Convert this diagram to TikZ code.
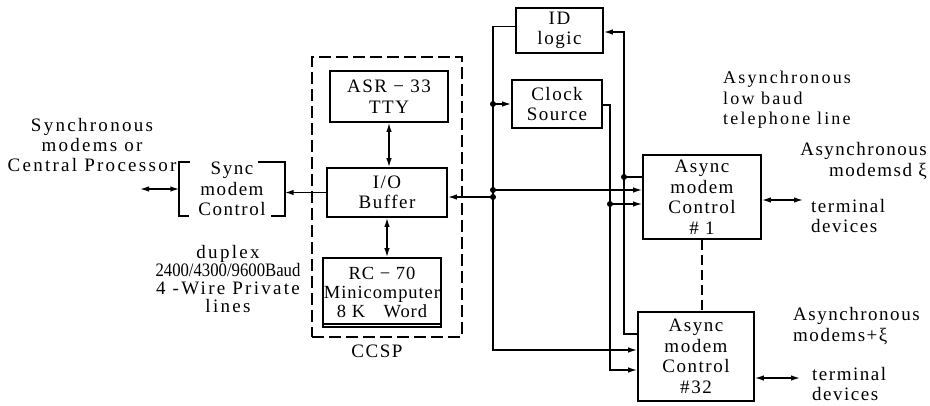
\documentclass[tikz,border=0pt]{standalone}
\usepackage{fontspec}
\setmainfont{Liberation Serif}[LetterSpace=8]
\newfontfamily\widefont{Liberation Serif}[LetterSpace=12]
\newfontfamily\condfont{Liberation Serif}[LetterSpace=0,FakeStretch=0.88]
\newfontfamily\narrowfont{Liberation Serif}[LetterSpace=5]
\usetikzlibrary{arrows.meta,calc}
\newcommand\dfont{\fontsize{19}{20.5}\selectfont}
\begin{document}
\begin{tikzpicture}[x=1pt,y=-1pt,
  box/.style={draw,line width=1.8pt,align=center,inner sep=0pt,font=\dfont},
  lbl/.style={inner sep=0pt,font=\dfont},
  wire/.style={line width=1.4pt},
  tip/.tip={Latex[length=9pt,width=5.5pt]},
  dot/.style={circle,fill,inner sep=0pt,minimum size=6pt}]
\useasboundingbox (0,0) rectangle (930,405);
% CCSP group
\node[draw,line width=1.4pt,dash pattern=on 12pt off 5pt,minimum width=150pt,minimum height=280pt,inner sep=0pt] (ccsp) at (387,197) {};
\node[lbl] (ccsplbl) at (377,351) {CCSP};
\node[box,minimum width=118pt,minimum height=51pt] (asr) at (389,96.5) {ASR − 33\\TTY};
\node[box,minimum width=120pt,minimum height=49pt] (io) at (387,192.5) {I/O\\Buffer};
\node[box,minimum width=118pt,minimum height=69pt,font=\narrowfont\fontsize{18.5}{19}\selectfont] (rc) at (382,292.5) {RC − 70\\Minicomputer\\8 K\quad Word};
\draw[line width=1.4pt] ([yshift=4pt]rc.south west) -- ([yshift=4pt]rc.south east);
% sync modem control (bracket box)
\node[lbl,align=center,minimum width=105pt,minimum height=47pt] (sync) at (232,189) {Sync\\modem\\Control};
\draw[line width=1.8pt] ([xshift=11pt]sync.north west) -- (sync.north west) -- (sync.south west) -- ([xshift=10pt]sync.south west);
\draw[line width=1.8pt] ([xshift=-27pt]sync.north east) -- (sync.north east) -- (sync.south east) -- ([xshift=-14pt]sync.south east);
% right side boxes
\node[box,minimum width=87pt,minimum height=45pt] (id) at (559.5,30.5) {ID\\logic};
\node[box,minimum width=90pt,minimum height=48pt] (clock) at (557,104) {Clock\\Source};
\node[box,minimum width=118pt,minimum height=84pt] (a1) at (702,197) {Async\\modem\\Control\\\# 1};
\node[box,minimum width=116pt,minimum height=89pt] (a32) at (696,356.5) {Async\\modem\\Control\\\#32};
% labels
\node[lbl,align=center,font=\widefont\fontsize{19}{20}\selectfont] (syncproc) at (92,145) {Synchronous\\modems or\\Central Processor};
\node[lbl,align=center,font=\widefont\fontsize{19}{18}\selectfont] (duplex) at (228,279) {duplex\\{\condfont\fontsize{19}{18}\selectfont 2400/4300/9600Baud}\\4 -Wire Private\\lines};
\node[lbl,align=left,anchor=west,font=\widefont\fontsize{18}{20.5}\selectfont] (lowbaud) at (723,100) {Asynchronous\\low baud\\telephone line};
\node[lbl,align=right,anchor=east] (am1) at (927,161) {Asynchronous\\modemsd ξ\hspace{8pt}};
\node[lbl,align=left,anchor=west] (td1) at (811,216) {terminal\\devices};
\node[lbl,align=left,anchor=west] (am32) at (793,326) {Asynchronous\\modems+ξ};
\node[lbl,align=left,anchor=west] (td32) at (812,384) {terminal\\devices};
% coordinates
\coordinate (sl) at (140,189);
\coordinate (aBot) at (493,350);
\coordinate (bBot) at (610,370);
\coordinate (cBot) at (624,334);
\coordinate (t1) at (803,200);
\coordinate (t32) at (800,378);
\coordinate (pio) at ([yshift=-4.5pt]io.east);
\coordinate (pa) at ([yshift=7pt]a1.west);
\coordinate (pb) at ([yshift=-7pt]a1.west);
\coordinate (pc) at ([yshift=20pt]a1.west);
\coordinate (pclk) at (clock.west);
% connectors
\draw[wire,tip-tip] (sl) -- (sync.west);
\draw[wire,-tip] (io.west) -- (io.west -| sync.east);
\draw[wire,tip-tip] (asr.south) -- (asr.south |- io.north);
\draw[wire,tip-tip] (io.south) -- (io.south |- rc.north);
% bus A
\draw[wire,-tip] ([yshift=4pt]id.west) -| (aBot) -- (aBot -| a32.west);
\draw[wire,-tip] (pclk -| aBot) -- (pclk);
\draw[wire,-tip] (pa -| aBot) -- (pa);
\draw[wire,-tip] (pio -| aBot) -- (pio);
\node[dot] (d1) at (pclk -| aBot) {};
\node[dot] (d2) at (pa -| aBot) {};
\node[dot] (d3) at (pio -| aBot) {};
% line B
\draw[wire,-tip] ([yshift=-1pt]clock.east) -| (bBot) -- (bBot -| a32.west);
\draw[wire,-tip] (pb -| bBot) -- (pb);
\node[dot] (d4) at (pb -| bBot) {};
% line C
\draw[wire,tip-] ([yshift=-1.5pt]id.east) -| (cBot) -- (cBot -| a32.west);
\draw[wire] (pc -| cBot) -- (pc);
\node[dot] (d5) at (pc -| cBot) {};
% outputs
\draw[wire,tip-tip] ([yshift=-3pt]a1.east) -- (t1);
\draw[wire,tip-tip] (t32 -| a32.east) -- (t32);
\draw[wire,dash pattern=on 10pt off 5pt] (a1.south) -- (a1.south |- a32.north);
\end{tikzpicture}
\end{document}
